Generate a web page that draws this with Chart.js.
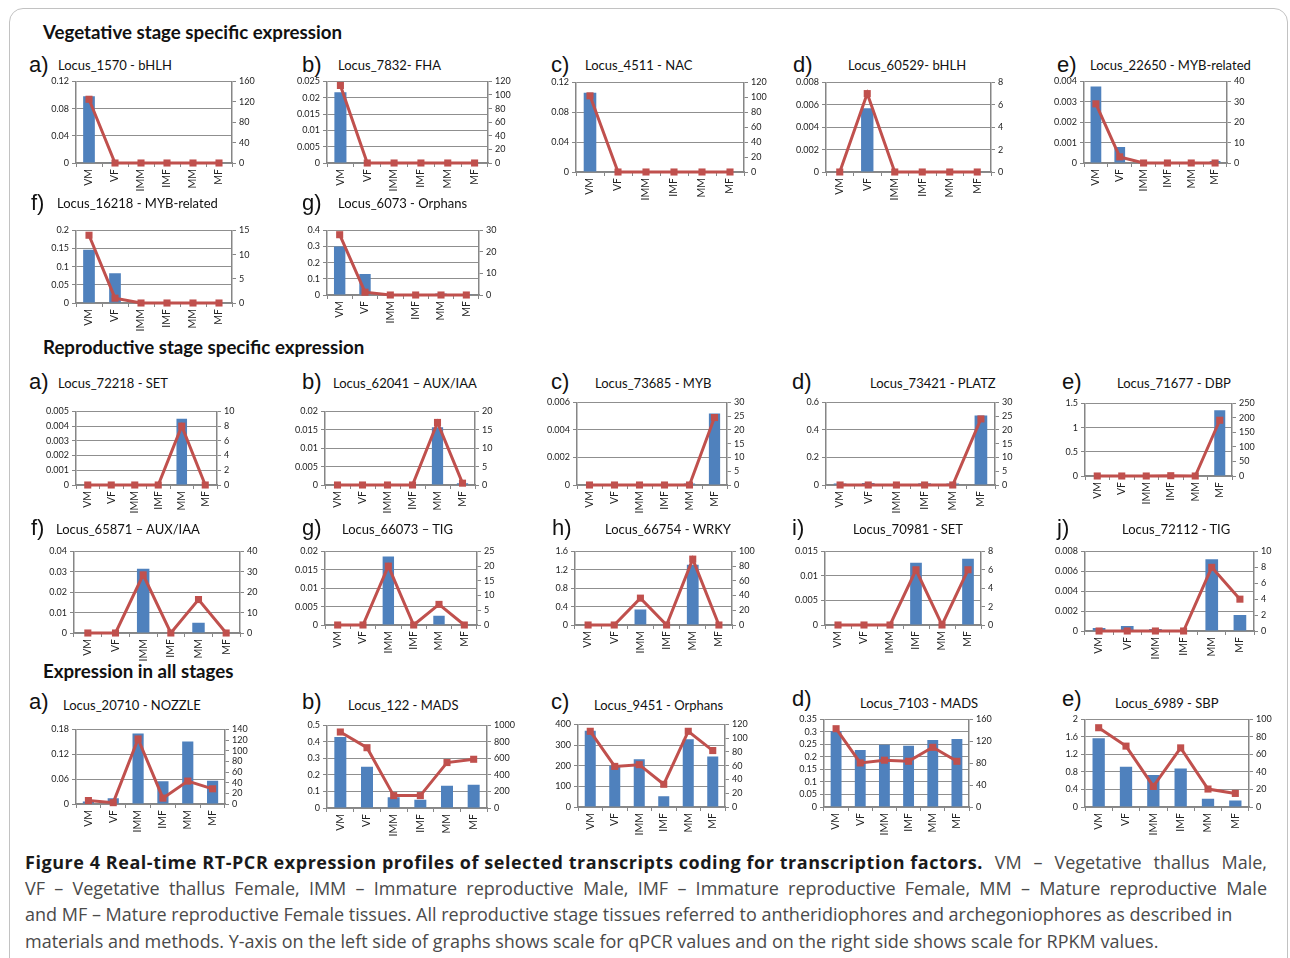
<!DOCTYPE html>
<html>
<head>
<meta charset="utf-8">
<script src="https://cdn.jsdelivr.net/npm/chart.js@4.4.0/dist/chart.umd.min.js"></script>
<style>
  body { margin: 0; width: 1290px; height: 958px; background: #fff; position: relative; overflow: hidden; font-family: Lato, sans-serif; }
  .frame { position: absolute; left: 9px; top: 8px; width: 1277px; height: 1000px; border: 1.5px solid #c2c2c2; border-radius: 14px; }
  .sec { position: absolute; left: 43px; font-weight: bold; font-size: 18.7px; line-height: 22px; color: #111; }
  .lab { position: absolute; font-family: 'Liberation Sans', Arial, sans-serif; font-size: 22px; line-height: 22px; color: #111; }
  .ttl { position: absolute; font-size: 13px; line-height: 16px; color: #111; white-space: nowrap; }
  .cap { position: absolute; left: 25px; width: 1242px; font-family: 'Open Sans', sans-serif; font-size: 18px; line-height: 26px; color: #4a4a4a; white-space: nowrap; }
  .cap.just { text-align: justify; text-align-last: justify; white-space: normal; }
  .cap b { display: inline-block; white-space: nowrap; color: #1a1a1a; font-family: 'Open Sans', sans-serif; font-size: 18px; }
  canvas { position: absolute; }
</style>
</head>
<body>
<div class="frame"></div>
<div class="sec" style="top:21px">Vegetative stage specific expression</div>
<div class="sec" style="top:336px">Reproductive stage specific expression</div>
<div class="sec" style="top:660px">Expression in all stages</div>

<div class="cap just" style="top:849px"><b id="capBold">Figure 4 Real-time RT-PCR expression profiles of selected transcripts coding for transcription factors.</b> VM – Vegetative thallus Male,</div>
<div class="cap just" style="top:875px">VF – Vegetative thallus Female, IMM – Immature reproductive Male, IMF – Immature reproductive Female, MM – Mature reproductive Male</div>
<div class="cap" style="top:901px">and MF – Mature reproductive Female tissues. All reproductive stage tissues referred to antheridiophores and archegoniophores as described in</div>
<div class="cap" style="top:928px">materials and methods. Y-axis on the left side of graphs shows scale for qPCR values and on the right side shows scale for RPKM values.</div>

<script>
const tissues = ['VM', 'VF', 'IMM', 'IMF', 'MM', 'MF'];

// #### Vegetative stage specific expression (bars = qPCR, line = RPKM)
const vegA_qpcr = [0.098, 0.0005, 0, 0, 0, 0];
const vegA_rpkm = [125, 0, 0, 0, 0, 0];
const vegB_qpcr = [0.0217, 0, 0, 0, 0, 0];
const vegB_rpkm = [114, 0, 0, 0, 0, 0];
const vegC_qpcr = [0.106, 0, 0, 0, 0, 0];
const vegC_rpkm = [102, 0, 0, 0, 0, 0];
const vegD_qpcr = [0, 0.0057, 0, 0, 0, 0];
const vegD_rpkm = [0, 7, 0, 0, 0, 0];
const vegE_qpcr = [0.00375, 0.00078, 0, 0, 0.00005, 0.0001];
const vegE_rpkm = [29, 3, 0, 0, 0, 0];
const vegF_qpcr = [0.147, 0.082, 0, 0, 0, 0];
const vegF_rpkm = [14, 1, 0, 0, 0, 0];
const vegG_qpcr = [0.30, 0.13, 0, 0, 0.01, 0.005];
const vegG_rpkm = [28, 1.3, 0, 0, 0, 0];

// #### Reproductive stage specific expression
const repA_qpcr = [0, 0, 0, 0, 0.0045, 0];
const repA_rpkm = [0, 0, 0, 0, 8, 0];
const repB_qpcr = [0, 0, 0, 0, 0.0157, 0.0005];
const repB_rpkm = [0, 0, 0, 0, 17, 0.5];
const repC_qpcr = [0, 0, 0, 0, 0.0001, 0.0052];
const repC_rpkm = [0, 0, 0, 0, 0, 24.5];
const repD_qpcr = [0.01, 0.015, 0.005, 0.012, 0.01, 0.505];
const repD_rpkm = [0, 0, 0, 0, 0, 24];
const repE_qpcr = [0, 0, 0, 0.01, 0, 1.36];
const repE_rpkm = [0, 0, 0, 1, 0, 192];
const repF_qpcr = [0, 0, 0.0315, 0, 0.005, 0];
const repF_rpkm = [0, 0, 28.5, 0, 16.4, 0];
const repG_qpcr = [0, 0, 0.0186, 0, 0.0025, 0];
const repG_rpkm = [0, 0, 20, 0, 7, 0];
const repH_qpcr = [0, 0, 0.335, 0, 1.31, 0];
const repH_rpkm = [0, 0, 36.5, 0, 89.5, 0];
const repI_qpcr = [0, 0, 0, 0.0127, 0, 0.0135];
const repI_rpkm = [0, 0, 0, 6, 0, 6];
const repJ_qpcr = [0.0003, 0.0005, 0.0002, 0, 0.0072, 0.0016];
const repJ_rpkm = [0, 0, 0, 0, 8, 4];

// #### Expression in all stages
const allA_qpcr = [0.006, 0.014, 0.17, 0.055, 0.151, 0.056];
const allA_rpkm = [6.5, 2.5, 122, 11, 43, 28.5];
const allB_qpcr = [0.43, 0.25, 0.065, 0.05, 0.135, 0.14];
const allB_rpkm = [920, 730, 150, 150, 550, 590];
const allC_qpcr = [369, 200, 231, 52, 328, 244];
const allC_rpkm = [110, 59, 61.5, 33, 110, 82];
const allD_qpcr = [0.304, 0.228, 0.249, 0.245, 0.268, 0.272];
const allD_rpkm = [143, 80.5, 85.5, 83.5, 109, 83.5];
const allE_qpcr = [1.57, 0.92, 0.73, 0.88, 0.19, 0.15];
const allE_rpkm = [90.5, 69.5, 23.5, 67.5, 20.5, 15.5];

// axis ranges [max, step] — left = qPCR, right = RPKM
const vegA_left = [0.12, 0.04],   vegA_right = [160, 40];
const vegB_left = [0.025, 0.005], vegB_right = [120, 20];
const vegC_left = [0.12, 0.04],   vegC_right = [120, 20];
const vegD_left = [0.008, 0.002], vegD_right = [8, 2];
const vegE_left = [0.004, 0.001], vegE_right = [40, 10];
const vegF_left = [0.2, 0.05],    vegF_right = [15, 5];
const vegG_left = [0.4, 0.1],     vegG_right = [30, 10];
const repA_left = [0.005, 0.001], repA_right = [10, 2];
const repB_left = [0.02, 0.005],  repB_right = [20, 5];
const repC_left = [0.006, 0.002], repC_right = [30, 5];
const repD_left = [0.6, 0.2],     repD_right = [30, 5];
const repE_left = [1.5, 0.5],     repE_right = [250, 50];
const repF_left = [0.04, 0.01],   repF_right = [40, 10];
const repG_left = [0.02, 0.005],  repG_right = [25, 5];
const repH_left = [1.6, 0.4],     repH_right = [100, 20];
const repI_left = [0.015, 0.005], repI_right = [8, 2];
const repJ_left = [0.008, 0.002], repJ_right = [10, 2];
const allA_left = [0.18, 0.06],   allA_right = [140, 20];
const allB_left = [0.5, 0.1],     allB_right = [1000, 200];
const allC_left = [400, 100],     allC_right = [120, 20];
const allD_left = [0.35, 0.05],   allD_right = [160, 40];
const allE_left = [2, 0.4],       allE_right = [100, 20];

// #### Layout: plot box [left, top, right, bottom], letter pos, title pos
const panels = [
  { letter: 'a)', title: 'Locus_1570 - bHLH',         q: vegA_qpcr, r: vegA_rpkm, lAx: vegA_left, rAx: vegA_right, box: [76, 79, 232, 163],  lab: [29, 65],  ttl: [58, 65] },
  { letter: 'b)', title: 'Locus_7832- FHA',           q: vegB_qpcr, r: vegB_rpkm, lAx: vegB_left, rAx: vegB_right, box: [327, 79, 488, 163], lab: [302, 65], ttl: [338, 65] },
  { letter: 'c)', title: 'Locus_4511 - NAC',          q: vegC_qpcr, r: vegC_rpkm, lAx: vegC_left, rAx: vegC_right, box: [576, 80, 744, 172], lab: [551, 65], ttl: [585, 65] },
  { letter: 'd)', title: 'Locus_60529- bHLH',         q: vegD_qpcr, r: vegD_rpkm, lAx: vegD_left, rAx: vegD_right, box: [826, 80, 991, 172], lab: [793, 65], ttl: [848, 65] },
  { letter: 'e)', title: 'Locus_22650 - MYB-related', q: vegE_qpcr, r: vegE_rpkm, lAx: vegE_left, rAx: vegE_right, box: [1084, 79, 1227, 163], lab: [1057, 65], ttl: [1090, 65] },
  { letter: 'f)', title: 'Locus_16218 - MYB-related', q: vegF_qpcr, r: vegF_rpkm, lAx: vegF_left, rAx: vegF_right, box: [76, 228, 232, 303], lab: [31, 203], ttl: [57, 203] },
  { letter: 'g)', title: 'Locus_6073 - Orphans',      q: vegG_qpcr, r: vegG_rpkm, lAx: vegG_left, rAx: vegG_right, box: [327, 228, 479, 295], lab: [302, 203], ttl: [338, 203] },

  { letter: 'a)', title: 'Locus_72218 - SET',         q: repA_qpcr, r: repA_rpkm, lAx: repA_left, rAx: repA_right, box: [76, 409, 217, 485], lab: [29, 382], ttl: [58, 383] },
  { letter: 'b)', title: 'Locus_62041 – AUX/IAA',     q: repB_qpcr, r: repB_rpkm, lAx: repB_left, rAx: repB_right, box: [325, 409, 475, 485], lab: [302, 382], ttl: [333, 383] },
  { letter: 'c)', title: 'Locus_73685 - MYB',         q: repC_qpcr, r: repC_rpkm, lAx: repC_left, rAx: repC_right, box: [577, 400, 727, 485], lab: [551, 382], ttl: [595, 383] },
  { letter: 'd)', title: 'Locus_73421 - PLATZ',       q: repD_qpcr, r: repD_rpkm, lAx: repD_left, rAx: repD_right, box: [826, 400, 995, 485], lab: [792, 382], ttl: [870, 383] },
  { letter: 'e)', title: 'Locus_71677 - DBP',         q: repE_qpcr, r: repE_rpkm, lAx: repE_left, rAx: repE_right, box: [1085, 401, 1232, 476], lab: [1062, 382], ttl: [1117, 383] },
  { letter: 'f)', title: 'Locus_65871 – AUX/IAA',     q: repF_qpcr, r: repF_rpkm, lAx: repF_left, rAx: repF_right, box: [74, 549, 240, 633], lab: [31, 528], ttl: [56, 529] },
  { letter: 'g)', title: 'Locus_66073 – TIG',         q: repG_qpcr, r: repG_rpkm, lAx: repG_left, rAx: repG_right, box: [325, 549, 477, 625], lab: [302, 528], ttl: [342, 529] },
  { letter: 'h)', title: 'Locus_66754 - WRKY',        q: repH_qpcr, r: repH_rpkm, lAx: repH_left, rAx: repH_right, box: [575, 549, 732, 625], lab: [552, 528], ttl: [605, 529] },
  { letter: 'i)', title: 'Locus_70981 - SET',         q: repI_qpcr, r: repI_rpkm, lAx: repI_left, rAx: repI_right, box: [825, 549, 981, 625], lab: [792, 528], ttl: [853, 529] },
  { letter: 'j)', title: 'Locus_72112 - TIG',         q: repJ_qpcr, r: repJ_rpkm, lAx: repJ_left, rAx: repJ_right, box: [1085, 549, 1254, 631], lab: [1057, 528], ttl: [1122, 529] },

  { letter: 'a)', title: 'Locus_20710 - NOZZLE',      q: allA_qpcr, r: allA_rpkm, lAx: allA_left, rAx: allA_right, box: [76, 727, 225, 804], lab: [29, 702], ttl: [63, 705] },
  { letter: 'b)', title: 'Locus_122 - MADS',          q: allB_qpcr, r: allB_rpkm, lAx: allB_left, rAx: allB_right, box: [327, 723, 487, 808], lab: [302, 702], ttl: [348, 705] },
  { letter: 'c)', title: 'Locus_9451 - Orphans',      q: allC_qpcr, r: allC_rpkm, lAx: allC_left, rAx: allC_right, box: [578, 722, 725, 807], lab: [551, 702], ttl: [594, 705] },
  { letter: 'd)', title: 'Locus_7103 - MADS',         q: allD_qpcr, r: allD_rpkm, lAx: allD_left, rAx: allD_right, box: [824, 717, 969, 807], lab: [792, 699], ttl: [860, 703] },
  { letter: 'e)', title: 'Locus_6989 - SBP',          q: allE_qpcr, r: allE_rpkm, lAx: allE_left, rAx: allE_right, box: [1085, 717, 1249, 807], lab: [1062, 699], ttl: [1115, 703] }
];

const BLUE = '#4f81bd';
const RED = '#c0504d';
const AXIS = '#868686';
const GRID = '#8f8f8f';
const TICK_FONT = { family: 'Lato', size: 9 };

// fixed axis sizes so the plot box lands where the reference has it
const LEFT_W = 40, RIGHT_W = 30, BOTTOM_H = 32, TOP_PAD = 6;

// the bold caption lead runs from the left margin to about x=985
const boldEl = document.getElementById('capBold');
const boldNat = boldEl.getBoundingClientRect().width;
boldEl.style.letterSpacing = ((958 - boldNat) / boldEl.textContent.length).toFixed(3) + 'px';

function fmt(v) {
  return String(+v.toFixed(6));
}

function addText(cls, text, x, y, half) {
  const el = document.createElement('div');
  el.className = cls;
  el.textContent = text;
  el.style.left = x + 'px';
  el.style.top = (y - half) + 'px';
  document.body.appendChild(el);
}

function buildPanel(p) {
  const [L, T, R, B] = p.box;
  const W = R - L + LEFT_W + RIGHT_W;
  const H = B - T + TOP_PAD + BOTTOM_H;

  addText('lab', p.letter, p.lab[0], p.lab[1], 11);
  addText('ttl', p.title, p.ttl[0], p.ttl[1], 8);

  const cv = document.createElement('canvas');
  cv.width = W;
  cv.height = H;
  cv.style.left = (L - LEFT_W) + 'px';
  cv.style.top = (T - TOP_PAD) + 'px';
  cv.style.width = W + 'px';
  cv.style.height = H + 'px';
  document.body.appendChild(cv);

  new Chart(cv, {
    type: 'bar',
    data: {
      labels: tissues,
      datasets: [
        {
          type: 'line',
          data: p.r,
          yAxisID: 'y1',
          order: 0,
          borderColor: RED,
          backgroundColor: RED,
          borderWidth: 3,
          pointStyle: 'rect',
          pointRadius: 5,
          pointBorderWidth: 0,
          pointBackgroundColor: RED,
          tension: 0,
          clip: false
        },
        {
          type: 'bar',
          data: p.q,
          yAxisID: 'y',
          order: 1,
          backgroundColor: BLUE,
          categoryPercentage: 1,
          barPercentage: 0.45
        }
      ]
    },
    options: {
      responsive: false,
      animation: false,
      devicePixelRatio: 1,
      layout: { padding: { top: TOP_PAD, left: 0, right: 0, bottom: 0 } },
      plugins: { legend: { display: false }, tooltip: { enabled: false } },
      scales: {
        x: {
          offset: true,
          grid: { offset: true, drawOnChartArea: false, tickLength: 4, color: AXIS },
          border: { color: AXIS, width: 1.5 },
          ticks: { minRotation: 90, maxRotation: 90, autoSkip: false, padding: 2, color: '#222', font: { family: 'Lato', size: 10.5 } },
          afterFit: s => { s.height = BOTTOM_H; }
        },
        y: {
          position: 'left',
          min: 0,
          max: p.lAx[0],
          ticks: { stepSize: p.lAx[1], autoSkip: false, padding: 3, color: '#222', font: TICK_FONT, callback: fmt },
          grid: { color: GRID, lineWidth: 1, tickLength: 4, tickColor: AXIS },
          border: { color: AXIS, width: 1.5 },
          afterFit: s => { s.width = LEFT_W; }
        },
        y1: {
          position: 'right',
          min: 0,
          max: p.rAx[0],
          ticks: { stepSize: p.rAx[1], autoSkip: false, padding: 3, color: '#222', font: TICK_FONT, callback: fmt },
          grid: { drawOnChartArea: false, tickLength: 4, color: AXIS },
          border: { color: AXIS, width: 1.5 },
          afterFit: s => { s.width = RIGHT_W; }
        }
      }
    }
  });
}

panels.forEach(buildPanel);
</script>
</body>
</html>
